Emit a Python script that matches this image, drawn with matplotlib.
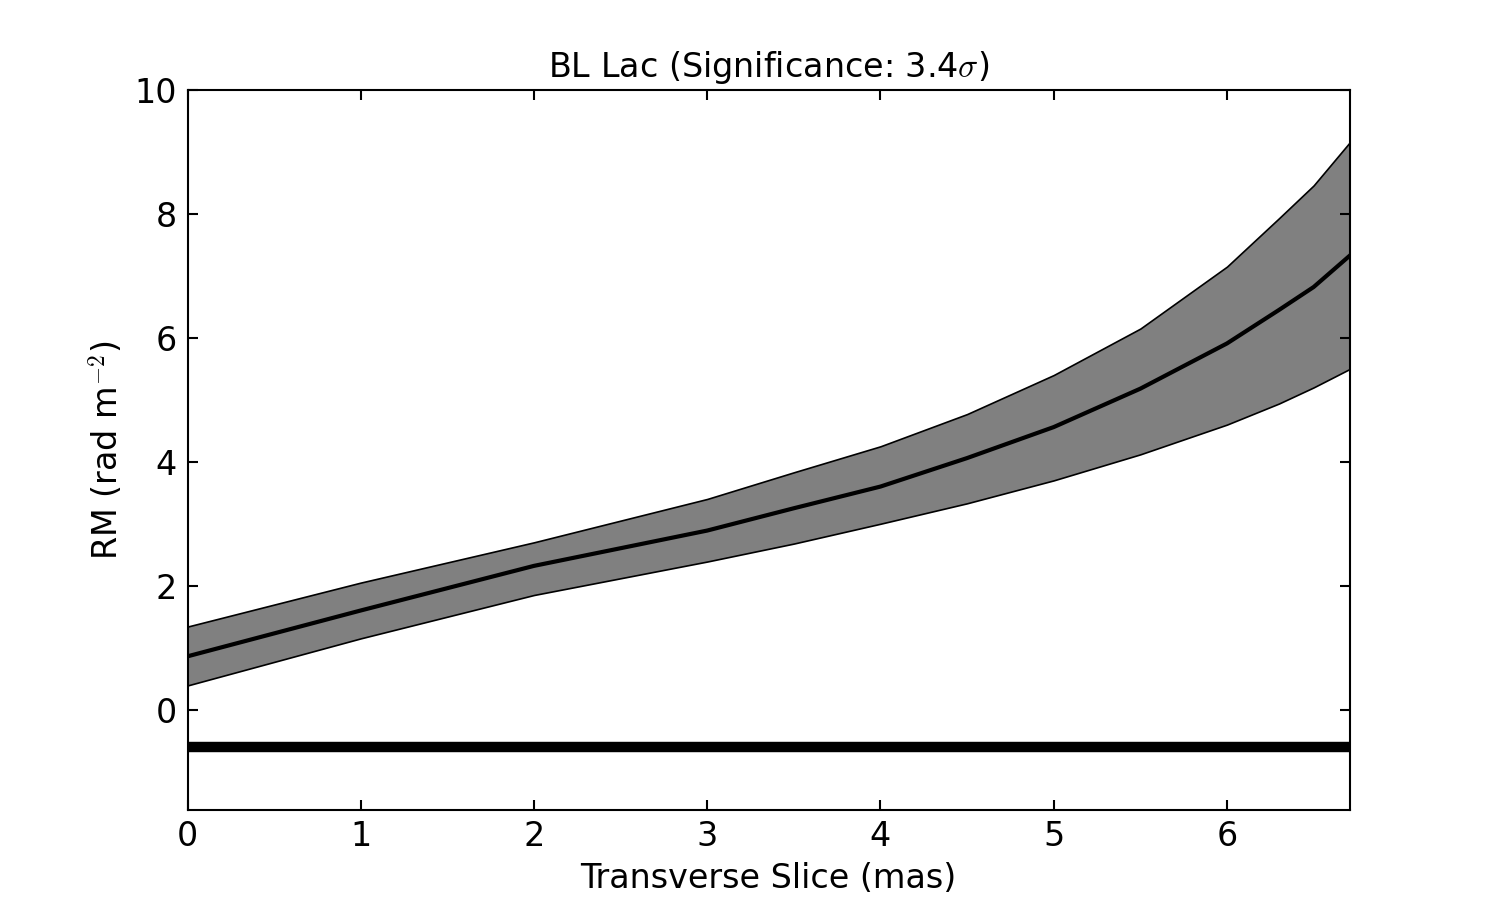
import matplotlib
matplotlib.use("Agg")
import matplotlib.pyplot as plt

# Data
slice_mas = [0.0, 1.0, 2.0, 3.0, 3.5, 4.0, 4.5, 5.0, 5.5, 6.0, 6.3, 6.5, 6.71]
rm_upper = [1.34, 2.05, 2.70, 3.40, 3.83, 4.25, 4.77, 5.40, 6.15, 7.15, 7.93, 8.46, 9.16]
rm_mid = [0.86, 1.60, 2.32, 2.89, 3.25, 3.60, 4.06, 4.56, 5.18, 5.91, 6.45, 6.82, 7.33]
rm_lower = [0.39, 1.15, 1.85, 2.39, 2.68, 3.00, 3.33, 3.70, 4.12, 4.60, 4.94, 5.20, 5.50]
threshold = -0.61

x_ticks = [0, 1, 2, 3, 4, 5, 6]
y_ticks = [0, 2, 4, 6, 8, 10]

plt.rcParams['font.family'] = ['DejaVu Sans']
plt.rcParams['mathtext.fontset'] = 'cm'

fig = plt.figure(figsize=(10, 6), dpi=150)
ax = fig.add_axes([0.125, 0.1, 0.775, 0.8])

ax.fill_between(slice_mas, rm_lower, rm_upper, facecolor='#808080',
                edgecolor='black', linewidth=0.8)
ax.plot(slice_mas, rm_mid, color='black', linewidth=2)
ax.axhline(threshold, color='black', linewidth=5)

ax.set_xlim(0, 6.71)
ax.set_ylim(-1.62, 10)
ax.set_xticks(x_ticks)
ax.set_yticks(y_ticks)
ax.tick_params(direction='in', top=True, right=True, length=5, width=1,
               labelsize=16, pad=5)
for s in ax.spines.values():
    s.set_linewidth(1)

ax.set_title(r'BL Lac (Significance: 3.4$\sigma$)', fontsize=16)
ax.set_xlabel('Transverse Slice (mas)', fontsize=16)
ax.set_ylabel(r'RM (rad m$^{-2}$)', fontsize=16)

fig.savefig('out.png', dpi=150, facecolor='white')
